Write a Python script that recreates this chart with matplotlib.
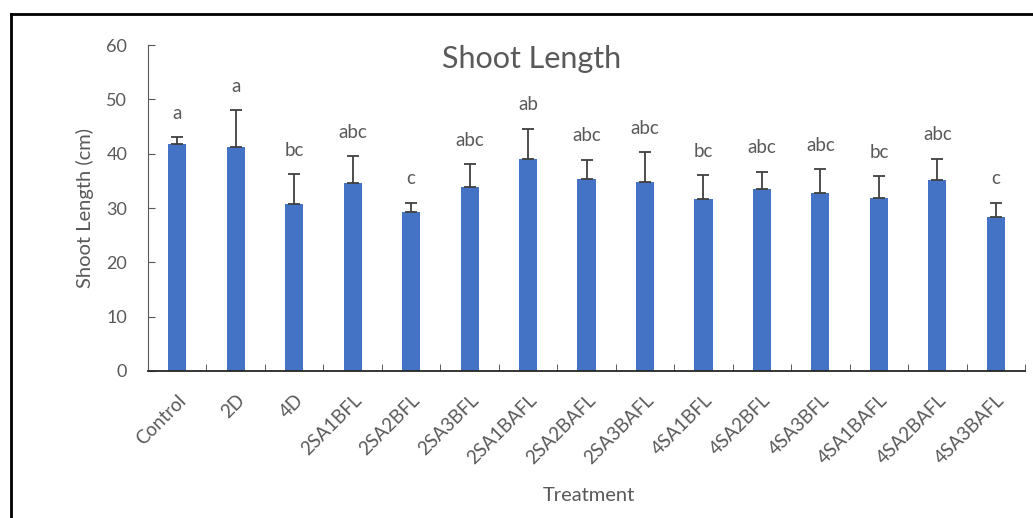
import numpy as np
import matplotlib.pyplot as plt
from matplotlib.lines import Line2D

plt.rcParams['font.family'] = ['Lato', 'DejaVu Sans']

treatments = ['Control', '2D', '4D', '2SA1BFL', '2SA2BFL', '2SA3BFL', '2SA1BAFL',
              '2SA2BAFL', '2SA3BAFL', '4SA1BFL', '4SA2BFL', '4SA3BFL', '4SA1BAFL',
              '4SA2BAFL', '4SA3BAFL']
means = [41.8, 41.3, 30.8, 34.6, 29.3, 33.9, 39.1, 35.4, 34.8, 31.6, 33.5, 32.8, 31.9, 35.2, 28.4]
errs = [1.2, 6.7, 5.4, 4.9, 1.7, 4.2, 5.5, 3.5, 5.5, 4.4, 3.2, 4.3, 3.9, 3.9, 2.6]
letters = ['a', 'a', 'bc', 'abc', 'c', 'abc', 'ab', 'abc', 'abc', 'bc', 'abc', 'abc',
           'bc', 'abc', 'c']

grey = '#595959'

fig = plt.figure(figsize=(10.33, 5.18), dpi=100)
ax = fig.add_axes([0.1433, 0.2838, 0.8490, 0.6293])

x = np.arange(len(treatments))
ax.bar(x, means, width=0.31, color='#4472C4', zorder=2)
ax.errorbar(x, means, yerr=[np.zeros(len(errs)), errs], fmt='none', ecolor='#404040',
            elinewidth=1.3, capsize=4, capthick=1.3, zorder=3)

for xi, m, e, l in zip(x, means, errs, letters):
    ax.text(xi, m + e + 2.8, l, ha='center', va='bottom', fontsize=13.5, color=grey)

ax.set_xlim(-0.5, len(treatments) - 0.5)
ax.set_ylim(0, 60)
ax.set_yticks(np.arange(0, 61, 10))
ax.set_xticks(x)
ax.set_xticklabels(treatments, rotation=45, ha='right', rotation_mode='anchor',
                   fontsize=13.5, color=grey)
ax.set_xticks(np.arange(-0.5, len(treatments), 1), minor=True)
ax.tick_params(axis='x', which='major', length=0, pad=15)
ax.tick_params(axis='x', which='minor', direction='in', length=5, color='#404040')
ax.tick_params(axis='y', direction='in', length=5, labelsize=13, labelcolor=grey,
               color=grey, pad=15)

for s in ['top', 'right']:
    ax.spines[s].set_visible(False)
ax.spines['left'].set_color(grey)
ax.spines['bottom'].set_color('#262626')
ax.spines['bottom'].set_linewidth(1.3)

fig.text(0.515, 0.886, 'Shoot Length', fontsize=22, color=grey, ha='center', va='center')
ax.set_ylabel('Shoot Length (cm)', fontsize=14.5, color=grey)
ax.set_xlabel('Treatment', fontsize=14.5, color=grey)
ax.yaxis.set_label_coords(-0.062, 0.5)
ax.xaxis.set_label_coords(0.503, -0.357)

# outer frame (only left and top edges visible in the crop)
fig.add_artist(Line2D([0.0107, 0.0107], [0, 0.973], transform=fig.transFigure,
                      color='black', lw=2))
fig.add_artist(Line2D([0.0107, 1.0], [0.973, 0.973], transform=fig.transFigure,
                      color='black', lw=2))

plt.savefig('out.png', dpi=100)
plt.close()
